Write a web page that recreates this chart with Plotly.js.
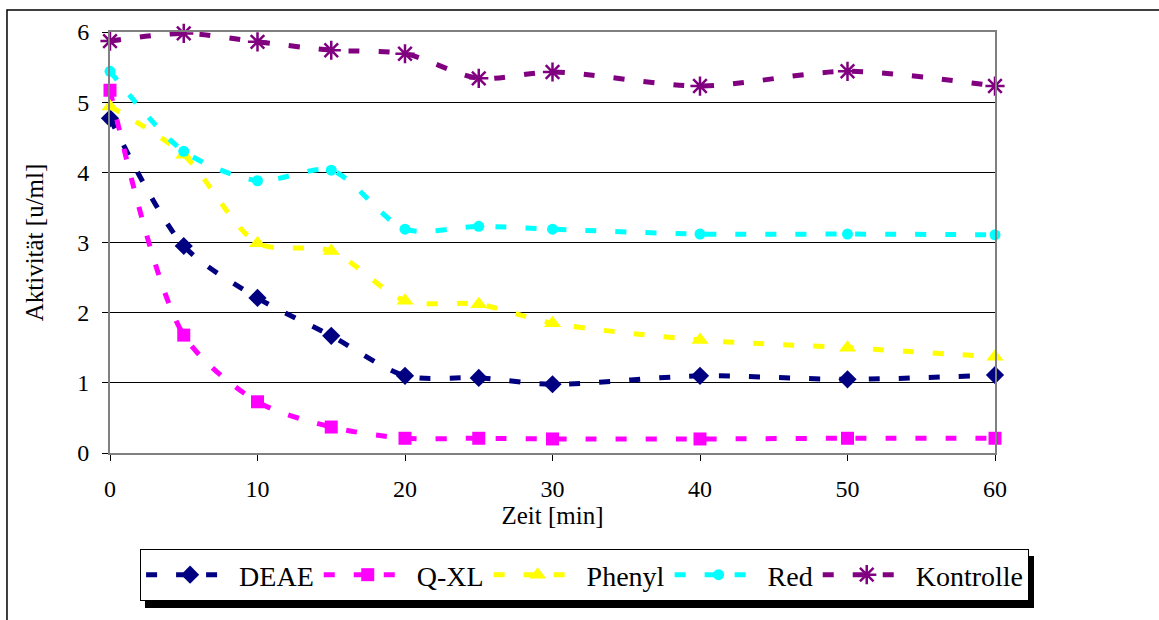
<!DOCTYPE html>
<html>
<head>
<meta charset="utf-8">
<script src="https://cdn.plot.ly/plotly-3.0.1.min.js"></script>
<style>
  html, body { margin: 0; padding: 0; background: #fff; }
  #chart { width: 1159px; height: 620px; }
  .legend rect.bg { filter: drop-shadow(5px 7px 0px #000); }
</style>
</head>
<body>
<div id="chart"></div>
<script>
const zeit = [0, 5, 10, 15, 20, 25, 30, 40, 50, 60];
const deae = [4.77, 2.95, 2.21, 1.67, 1.10, 1.07, 0.98, 1.10, 1.05, 1.11];
const qxl = [5.17, 1.68, 0.73, 0.37, 0.21, 0.21, 0.20, 0.20, 0.21, 0.21];
const phenyl = [4.94, 4.25, 2.99, 2.88, 2.17, 2.12, 1.85, 1.61, 1.50, 1.37];
const red = [5.44, 4.30, 3.88, 4.03, 3.19, 3.23, 3.19, 3.12, 3.12, 3.11];
const kontrolle = [5.87, 5.98, 5.86, 5.74, 5.69, 5.34, 5.43, 5.23, 5.44, 5.23];

const seriesNames = ['DEAE', 'Q-XL', 'Phenyl', 'Red', 'Kontrolle'];
const seriesData = [deae, qxl, phenyl, red, kontrolle];
const colors = ['#000080', '#FF00FF', '#FFFF00', '#00FFFF', '#800080'];
const symbols = ['diamond', 'square', 'triangle-up', 'circle', 'asterisk-open'];
const sizes = [14, 13, 15, 11, 16];

const traces = seriesNames.map((name, i) => ({
  x: zeit,
  y: seriesData[i],
  name: name,
  type: 'scatter',
  mode: 'lines+markers',
  line: { color: colors[i], width: 5, dash: '11px,19px', shape: 'spline', smoothing: 0.8 },
  marker: {
    color: colors[i], symbol: symbols[i], size: sizes[i],
    line: { color: colors[i], width: symbols[i] === 'asterisk-open' ? 2.5 : 0 }
  },
  cliponaxis: false
}));

const serif = 'Liberation Serif, Times New Roman, DejaVu Serif, Noto Serif';

const layout = {
  width: 1159, height: 620,
  margin: { l: 110, r: 164, t: 32, b: 167 },
  paper_bgcolor: '#fff', plot_bgcolor: '#fff',
  font: { family: serif, color: '#000', size: 24 },
  showlegend: true,
  legend: {
    orientation: 'h', x: 0.034, y: -0.228, xanchor: 'left', yanchor: 'top',
    bgcolor: '#fff', bordercolor: '#000', borderwidth: 1,
    font: { family: serif, size: 28, color: '#000' },
    itemwidth: 88, tracegroupgap: 0
  },
  xaxis: {
    range: [0, 60], tickvals: [0, 10, 20, 30, 40, 50, 60],
    showgrid: false, zeroline: false,
    showline: true, linecolor: '#808080', linewidth: 2, mirror: true,
    ticks: 'outside', ticklen: 6, tickcolor: '#000', tickwidth: 1,
    ticklabelstandoff: 7,
    tickfont: { family: serif, size: 24 },
    title: { text: 'Zeit [min]', font: { family: serif, size: 25 }, standoff: 4 }
  },
  yaxis: {
    range: [0, 6], tickvals: [0, 1, 2, 3, 4, 5, 6],
    showgrid: true, gridcolor: '#000', gridwidth: 1, zeroline: false,
    showline: true, linecolor: '#808080', linewidth: 2, mirror: true,
    ticks: 'outside', ticklen: 6, tickcolor: '#000', tickwidth: 1,
    ticklabelstandoff: 8,
    tickfont: { family: serif, size: 24 },
    title: { text: 'Aktivität [u/ml]', font: { family: serif, size: 25 }, standoff: 26 }
  },
  shapes: [{
    type: 'rect', xref: 'paper', yref: 'paper',
    x0: -0.1164, x1: 1.2, y0: 1.0523, y1: -0.42,
    line: { color: '#000', width: 1.5 }, fillcolor: 'rgba(0,0,0,0)', layer: 'below'
  }]
};

Plotly.newPlot('chart', traces, layout, { displayModeBar: false, staticPlot: true });
</script>
</body>
</html>
